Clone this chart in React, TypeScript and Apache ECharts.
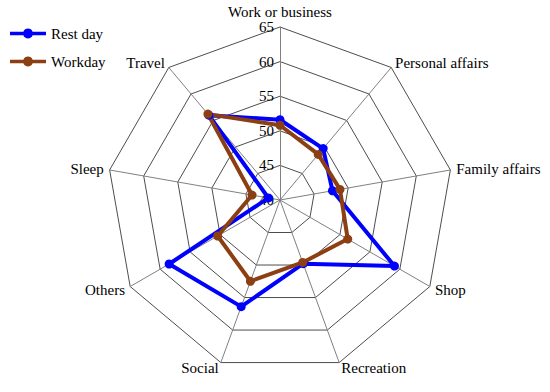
import React, { useEffect, useRef } from "react";
import * as echarts from "echarts";

// Indicators listed counter-clockwise from the top (ECharts radar order)
const indicators = [
  "Work or business",
  "Travel",
  "Sleep",
  "Others",
  "Social",
  "Recreation",
  "Shop",
  "Family affairs",
  "Personal affairs",
];
const restDay = [51.6, 56.0, 41.7, 58.5, 56.4, 49.8, 59.1, 47.7, 49.7];
const workday = [50.8, 56.2, 44.1, 50.4, 52.5, 49.6, 51.3, 48.8, 48.6];
const seriesNames = ["Rest day", "Workday"];
const axisMin = 40;
const axisMax = 65;

const FONT = "'Liberation Serif', 'Times New Roman', serif";
const BLUE = "#0000ff";
const BROWN = "#8b3f12";
const legendIcon =
  "path://M0,5L14.88,5A5.5,5.5 0 0 1 25.12,5L40,5L40,9L25.12,9A5.5,5.5 0 0 1 14.88,9L0,9Z";

export default function App() {
  const ref = useRef<HTMLDivElement>(null);
  useEffect(() => {
    const chart = echarts.init(ref.current!, null, { renderer: "svg" });
    chart.setOption({
      animation: false,
      legend: {
        orient: "vertical",
        left: 5,
        top: 21,
        itemWidth: 36,
        itemHeight: 11,
        itemGap: 13,
        textStyle: { fontFamily: FONT, fontSize: 15, color: "#000" },
        data: [
          { name: seriesNames[0], icon: legendIcon, itemStyle: { color: BLUE } },
          { name: seriesNames[1], icon: legendIcon, itemStyle: { color: BROWN } },
        ],
      },
      radar: {
        center: [280, 200],
        radius: 173,
        startAngle: 90,
        shape: "polygon",
        splitNumber: 5,
        nameGap: 6,
        axisName: { color: "#000", fontFamily: FONT, fontSize: 15 },
        axisLine: { lineStyle: { color: "#808080", width: 1 } },
        splitLine: { lineStyle: { color: "#4d4d4d", width: 1 } },
        splitArea: { show: false },
        axisTick: { show: false },
        axisLabel: { show: false },
        indicator: indicators.map((name, i) =>
          i === 0
            ? {
                name,
                min: axisMin,
                max: axisMax,
                axisLabel: {
                  show: true,
                  color: "#000",
                  fontFamily: FONT,
                  fontSize: 15,
                  margin: 6,
                },
              }
            : { name, min: axisMin, max: axisMax }
        ),
      },
      series: [
        {
          type: "radar",
          symbol: "circle",
          symbolSize: 9,
          data: [
            {
              name: seriesNames[0],
              value: restDay,
              itemStyle: { color: BLUE },
              lineStyle: { color: BLUE, width: 4 },
            },
            {
              name: seriesNames[1],
              value: workday,
              itemStyle: { color: BROWN },
              lineStyle: { color: BROWN, width: 4 },
            },
          ],
        },
      ],
    });
    return () => chart.dispose();
  }, []);
  return (
    <div
      ref={ref}
      style={{ position: "absolute", left: 0, top: 0, width: 550, height: 392 }}
    />
  );
}
